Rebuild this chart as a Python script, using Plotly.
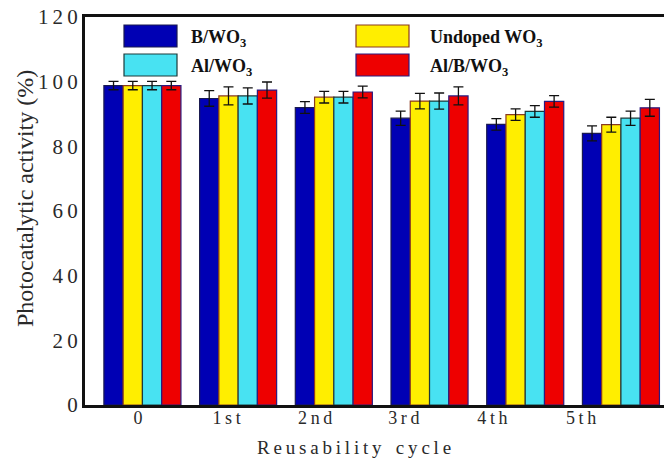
import plotly.graph_objects as go

categories = ["0", "1st", "2nd", "3rd", "4th", "5th"]
tick_text = ["0", "1\u2009s\u2009t", "2\u2009n\u2009d", "3\u2009r\u2009d", "4\u2009t\u2009h", "5\u2009t\u2009h"]
series_names = ["B/WO<sub>3</sub>", "Undoped WO<sub>3</sub>", "Al/WO<sub>3</sub>", "Al/B/WO<sub>3</sub>"]

b_wo3 = [98.8, 94.8, 92.0, 88.7, 86.8, 84.0]
undoped_wo3 = [98.8, 95.6, 95.2, 94.0, 89.8, 86.7]
al_wo3 = [98.8, 95.6, 95.2, 94.0, 90.8, 88.7]
alb_wo3 = [98.8, 97.4, 96.8, 95.6, 93.9, 91.9]

b_err = [1.3, 2.4, 1.8, 2.2, 1.8, 2.3]
undoped_err = [1.3, 2.8, 1.8, 2.4, 1.8, 2.3]
al_err = [1.3, 2.5, 1.8, 2.5, 1.8, 2.2]
alb_err = [1.3, 2.5, 1.8, 2.8, 1.8, 2.6]

y_ticks = [0, 20, 40, 60, 80, 100, 120]
y_tick_text = ["0", "2\u20090", "4\u20090", "6\u20090", "8\u20090", "1\u20090\u20090", "1\u20092\u20090"]

colors = ["#0000B4", "#FFEE00", "#48E2F2", "#EE0000"]
outlines = ["#1a1a50", "#8a3a20", "#1c3a3a", "#2a1a80"]

values = [b_wo3, undoped_wo3, al_wo3, alb_wo3]
errors = [b_err, undoped_err, al_err, alb_err]

fig = go.Figure()
for name, v, e, c, oc in zip(series_names, values, errors, colors, outlines):
    fig.add_trace(go.Bar(
        x=categories, y=v, name=name,
        marker=dict(color=c, line=dict(color=oc, width=1.2)),
        error_y=dict(type="data", array=e, visible=True, color="#111111", thickness=1.3, width=5),
        showlegend=False,
    ))

serif = "Liberation Serif, Times New Roman, serif"
txt = "#2a2a2a"

# the reference's x labels sit on a slightly tighter pitch than the bar groups
label_pitch = 0.926
label_offset = -0.047
x_tickvals = [label_offset + label_pitch * i for i in range(len(categories))]

fig.update_layout(
    width=664, height=460,
    margin=dict(l=85, r=0, t=17, b=55),
    paper_bgcolor="white", plot_bgcolor="white",
    barmode="group", bargap=0.195, bargroupgap=0,
    font=dict(family=serif, color=txt),
    xaxis=dict(
        range=[-0.60, 5.45], tickvals=x_tickvals, ticktext=tick_text,
        showline=True, linecolor="#111111", linewidth=3, mirror=True,
        ticks="", showgrid=False, zeroline=False, automargin=False,
        tickfont=dict(family=serif, size=18, color=txt),
        ticklabelstandoff=-6,
    ),
    yaxis=dict(
        range=[0, 120], tickvals=y_ticks, ticktext=y_tick_text,
        showline=True, linecolor="#111111", linewidth=3, mirror=False,
        ticks="", showgrid=False, zeroline=False, automargin=False,
        tickfont=dict(family=serif, size=21, color=txt),
    ),
)

fig.add_annotation(
    text="Photocatalytic activity (%)",
    xref="paper", yref="paper", x=(25 - 85) / 579, y=1 - (199 - 17) / 388,
    xanchor="center", yanchor="middle", textangle=-90,
    showarrow=False, font=dict(family=serif, size=24, color=txt),
)

fig.add_annotation(
    text="R\u2009e\u2009u\u2009s\u2009a\u2009b\u2009i\u2009l\u2009i\u2009t\u2009y\u2002 c\u2009y\u2009c\u2009l\u2009e",
    xref="paper", yref="paper", x=(354 - 85) / 579, y=1 - (447 - 17) / 388,
    xanchor="center", yanchor="middle",
    showarrow=False, font=dict(family=serif, size=19, color=txt),
)

# custom legend (large swatches)
plot_w = 664 - 85
plot_h = 460 - 17 - 55
def px(xp):
    return (xp - 85) / plot_w
def py(yp):
    return 1 - (yp - 17) / plot_h

legend_pos = [(124, 25), (356, 25), (124, 54), (356, 54)]
for (lx, ly), name, c, oc in zip(legend_pos, series_names, colors, outlines):
    fig.add_shape(type="rect", xref="paper", yref="paper",
                  x0=px(lx), x1=px(lx + 53), y0=py(ly), y1=py(ly + 22),
                  fillcolor=c, line=dict(color=oc, width=1.2))
    fig.add_annotation(text="<b>" + name + "</b>", xref="paper", yref="paper",
                       x=px(lx + 65 if lx < 300 else lx + 72), y=py(ly + 13),
                       xanchor="left", yanchor="middle", showarrow=False,
                       font=dict(family=serif, size=18, color="#111111"))

fig.write_html("out.html", config={"displayModeBar": False},
               post_script="document.body.style.margin='0';document.body.style.overflow='hidden';")
